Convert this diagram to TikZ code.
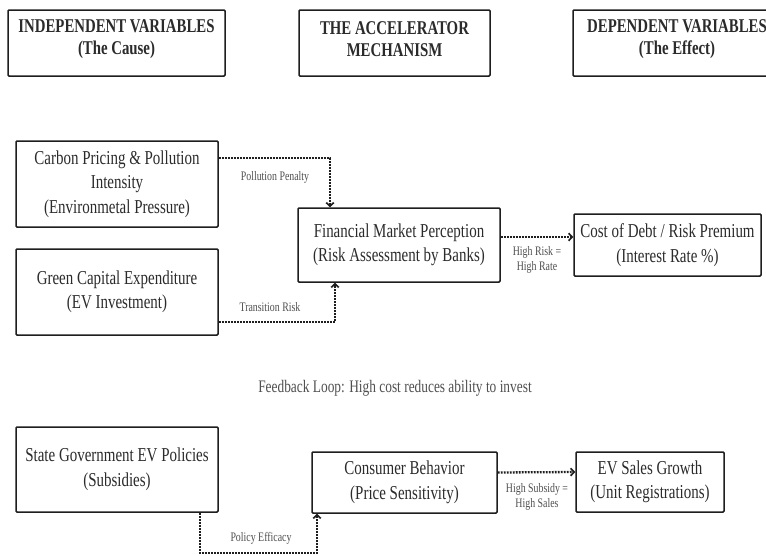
\documentclass[tikz,border=0pt]{standalone}
\usepackage{fontspec}
\setmainfont{Liberation Serif}[FakeStretch=0.76]
\usetikzlibrary{arrows.meta,calc}
\definecolor{ink}{HTML}{1E1E1E}
\definecolor{txt}{HTML}{2B2B2B}
\definecolor{lbl}{HTML}{505050}
\begin{document}
\begin{tikzpicture}[x=1pt,y=-1pt,
  box/.style={draw=ink,line width=1.5pt,rounded corners=1pt,fill=white,align=center,text=txt,inner sep=0pt,font=\fontsize{19.7}{24.5}\selectfont},
  headbox/.style={draw=ink,line width=1.5pt,rounded corners=1pt,fill=white,inner sep=0pt},
  headtext/.style={align=center,text=txt,inner sep=0pt,font=\bfseries\fontsize{19.5}{22}\selectfont},
  lab/.style={text=lbl,align=center,font=\fontsize{13}{15}\selectfont},
  link/.style={draw=ink,line width=2.3pt,dash pattern=on 1.8pt off 1.2pt,-{Straight Barb[length=3.5pt,width=7.5pt,line width=1.7pt]}}]
\useasboundingbox (0,0) rectangle (766,555);
\clip (0,0) rectangle (766,555);
\fill[white] (0,0) rectangle (766,555);
% headers
\node[headbox,minimum width=217pt,minimum height=66pt] (h1) at (116.5,43) {};
\node[headtext] (h1t) at ([yshift=4pt]h1.center) {INDEPENDENT VARIABLES\\(The Cause)};
\node[headbox,minimum width=191pt,minimum height=66pt] (h2) at (394.5,43) {};
\node[headtext] (h2t) at ([yshift=4pt]h2.center) {THE ACCELERATOR\\MECHANISM};
\node[headbox,minimum width=208pt,minimum height=66pt] (h3) at (677,43) {};
\node[headtext] (h3t) at ([yshift=4pt]h3.center) {DEPENDENT VARIABLES\\(The Effect)};
% upper row
\node[box,minimum width=202pt,minimum height=86pt] (carbon) at (117,184) {Carbon Pricing \& Pollution\\Intensity\\(Environmetal Pressure)};
\node[box,minimum width=202pt,minimum height=86pt] (green) at (117,292) {Green Capital Expenditure\\(EV Investment)};
\node[box,minimum width=202pt,minimum height=74pt] (fin) at (399,245) {Financial Market Perception\\(Risk Assessment by Banks)};
\node[box,minimum width=187pt,minimum height=62pt] (cost) at (667.5,245) {Cost of Debt / Risk Premium\\(Interest Rate \%)};
\draw[link] ([yshift=26pt]carbon.east) -| ([xshift=-69pt]fin.north);
\draw[link] ([yshift=-30pt]green.east) -| ([xshift=-64pt]fin.south);
\draw[link] ([yshift=8pt]fin.east) -- ([yshift=8pt]cost.west);
\node[lab] (l1) at (275,177) {Pollution Penalty};
\node[lab] (l2) at (270,307) {Transition Risk};
\node[lab] (l3) at (537,260) {High Risk =\\High Rate};
\node[text=lbl,font=\fontsize{17.6}{20}\selectfont] (fb) at (395,388) {Feedback Loop: High cost reduces ability to invest};
% lower row
\node[box,minimum width=202pt,minimum height=85pt] (state) at (117,469.5) {State Government EV Policies\\(Subsidies)};
\node[box,minimum width=185pt,minimum height=61pt] (cons) at (404.5,482.5) {Consumer Behavior\\(Price Sensitivity)};
\node[box,minimum width=148pt,minimum height=60pt] (ev) at (650,482) {EV Sales Growth\\(Unit Registrations)};
\draw[link] ([yshift=10pt]cons.east) -- ([yshift=10pt]ev.west);
\coordinate (pe1) at (200,553);
\coordinate (pe2) at (317,553);
\draw[link] (state.south -| pe1) -- (pe1) -- (pe2) -- (cons.south -| pe2);
\node[lab] (l4) at (261,538) {Policy Efficacy};
\node[lab] (l5) at (537,497) {High Subsidy =\\High Sales};
\end{tikzpicture}
\end{document}
